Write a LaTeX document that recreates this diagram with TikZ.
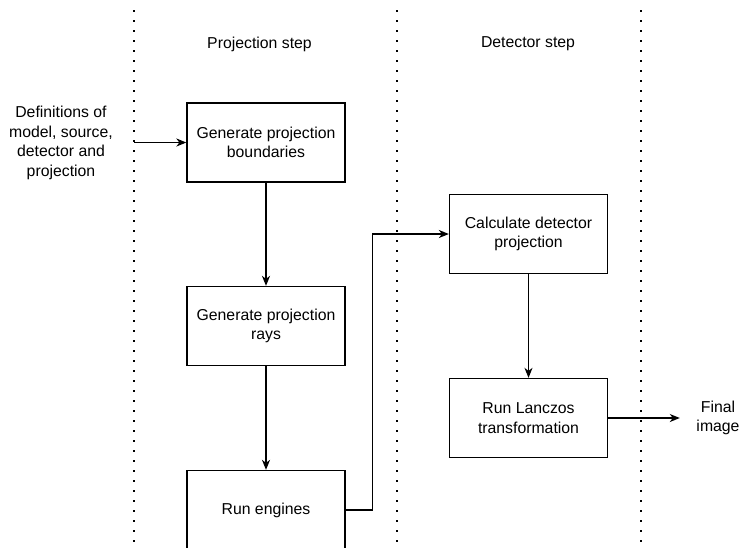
\documentclass[tikz,border=0pt]{standalone}
\usepackage{fontspec}
\setmainfont{Liberation Sans}
\usetikzlibrary{arrows.meta, positioning}

\begin{document}
\begin{tikzpicture}[x=1pt,y=-1pt,
    font=\fontsize{15.8}{19.5}\selectfont,
    stepbox/.style={draw,line width=1.3pt,minimum width=158pt,minimum height=79pt,align=center,inner sep=2pt},
    flow/.style={line width=1.3pt,-{Stealth[length=10pt,width=8pt,inset=3pt]}},
    divider/.style={line width=2.4pt,dash pattern=on 2.4pt off 7.6pt}]
    \useasboundingbox (0,0) rectangle (741,547);
    \clip (0,0) rectangle (741,547);

    % lane borders
    \draw[divider] (134,10) -- (134,547);
    \draw[divider] (397,10) -- (397,547);
    \draw[divider] (641,10) -- (641,547);

    \node (projlabel) at (259.5,44) {Projection step};
    \node (detlabel) at (528,44) {Detector step};

    % projection step
    \node[stepbox] (bounds) at (266,142.5) {Generate projection\\boundaries};
    \node[stepbox] (rays) at (266,326) {Generate projection\\rays};
    \node[stepbox] (engines) at (266,510) {Run engines};

    % detector step
    \node[stepbox] (detproj) at (528.5,234) {Calculate detector\\projection};
    \node[stepbox] (lanczos) at (528.5,418) {Run Lanczos\\transformation};

    % input and output
    \node[align=center,minimum width=146pt,inner sep=0pt] (defs) at (61,143) {Definitions of\\model, source,\\detector and\\projection};
    \node[align=center,minimum width=76pt,inner sep=0pt] (final) at (718,418) {Final\\image};

    \draw[flow] (defs.east |- bounds) -- (bounds);
    \draw[flow] (bounds) -- (rays);
    \draw[flow] (rays) -- (engines);
    \draw[flow] (engines.east) -- ++(27,0) |- (detproj.west);
    \draw[flow] (detproj) -- (lanczos);
    \draw[flow] (lanczos) -- (final);
\end{tikzpicture}
\end{document}
